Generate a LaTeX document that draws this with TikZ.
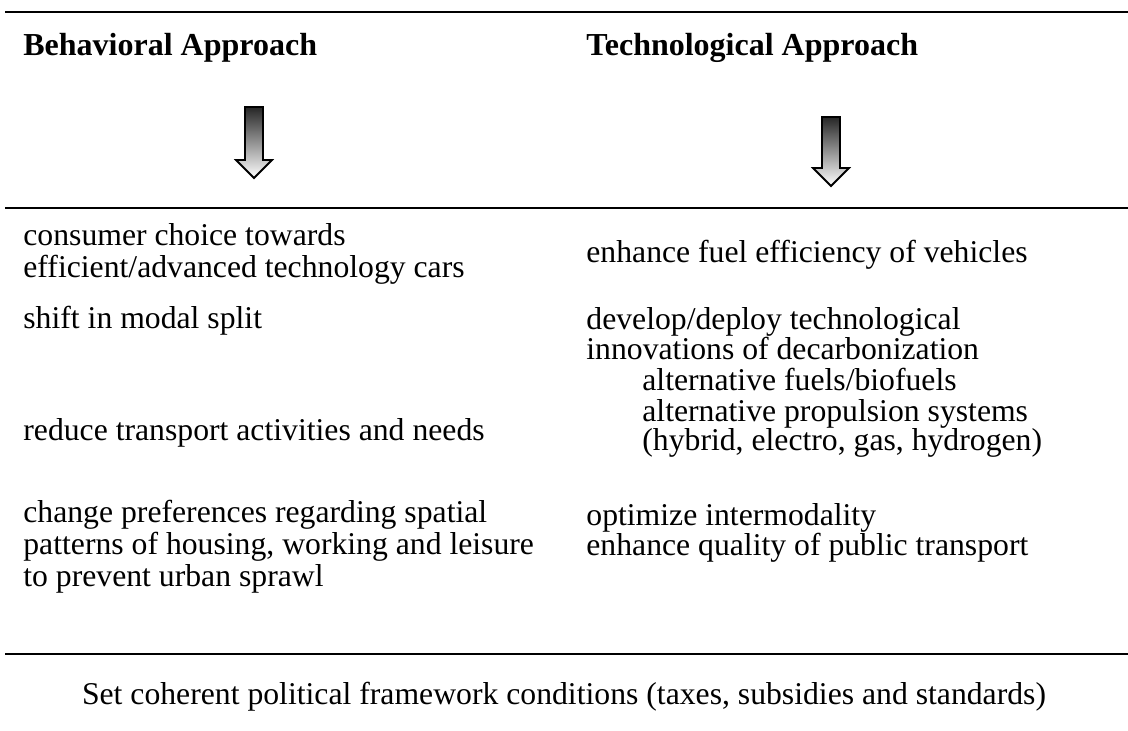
\documentclass[tikz,border=0pt]{standalone}
\usepackage{fontspec}
\setmainfont{Liberation Serif}
\begin{document}
\begin{tikzpicture}[x=0.5pt,y=-0.5pt,
  txt/.style={anchor=base west,inner sep=0pt,font=\fontsize{15.85}{16}\selectfont},
  head/.style={txt,font=\fontsize{16}{16}\selectfont\bfseries},
  rule/.style={line width=1pt},
  fatarrow/.style={draw=black,line width=0.9pt,line join=miter,top color=black!85,middle color=black!25,bottom color=white}]
\useasboundingbox (0,0) rectangle (1128,731);
% rules
\draw[rule,line width=1.3pt] (5,12) -- (1128,12);
\draw[rule] (5,208) -- (1128,208);
\draw[rule] (5,654) -- (1128,654);
% headings
\node[head] (hb) at (23,56) {Behavioral Approach};
\node[head] (ht) at (586,56) {Technological Approach};
% arrows
\path[fatarrow] (245,107) -- (263,107) -- (263,160) -- (272,160) -- (254,178) -- (236,160) -- (245,160) -- cycle;
\path[fatarrow] (822,117) -- (840,117) -- (840,168) -- (849,168) -- (831,186) -- (813,168) -- (822,168) -- cycle;
% left column
\node[txt] (l1) at (23,246) {consumer choice towards};
\node[txt] (l2) at (23,278) {efficient/advanced technology cars};
\node[txt] (l3) at (23,329) {shift in modal split};
\node[txt] (l4) at (23,441) {reduce transport activities and needs};
\node[txt] (l5) at (23,522) {change preferences regarding spatial};
\node[txt] (l6) at (23,554) {patterns of housing, working and leisure};
\node[txt] (l7) at (23,586) {to prevent urban sprawl};
% right column
\node[txt] (r1) at (586,263) {enhance fuel efficiency of vehicles};
\node[txt] (r2) at (586,330) {develop/deploy technological};
\node[txt] (r3) at (586,360) {innovations of decarbonization};
\node[txt] (r4) at (642,391) {alternative fuels/biofuels};
\node[txt] (r5) at (642,422) {alternative propulsion systems};
\node[txt] (r6) at (642,451) {(hybrid, electro, gas, hydrogen)};
\node[txt] (r7) at (586,525) {optimize intermodality};
\node[txt] (r8) at (586,555) {enhance quality of public transport};
% bottom
\node[txt,anchor=base] (b1) at (564,704) {Set coherent political framework conditions (taxes, subsidies and standards)};
\end{tikzpicture}
\end{document}
